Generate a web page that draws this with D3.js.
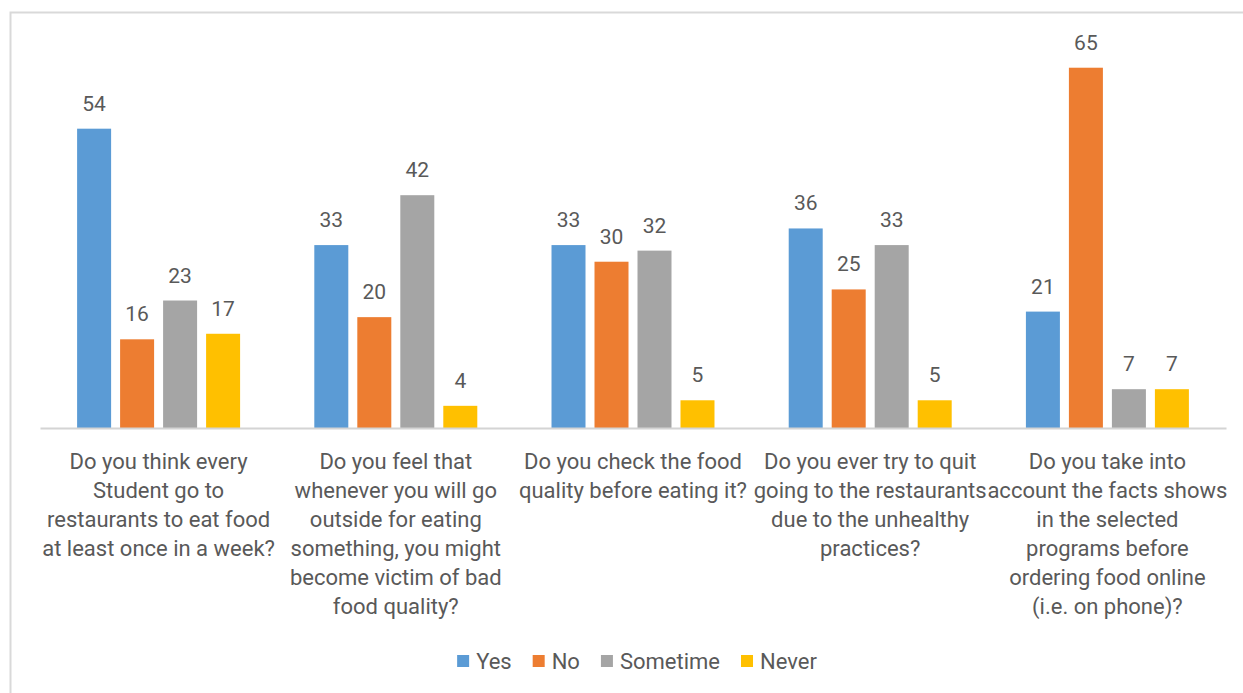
<!DOCTYPE html>
<html>
<head>
<meta charset="utf-8">
<script src="https://cdn.jsdelivr.net/npm/d3@7"></script>
<style>
  body { margin: 0; background: #fff; }
  text { font-family: Roboto, "Open Sans", sans-serif; fill: #595959; }
</style>
</head>
<body>
<div id="chart"></div>
<script>
var svgWidth = 1243;
var svgHeight = 693;

// data
var categories = ["q1", "q2", "q3", "q4", "q5"];
var categoryLines = [
    ["Do you think every", "Student go to", "restaurants to eat food", "at least once in a week?"],
    ["Do you feel that", "whenever you will go", "outside for eating", "something, you might", "become victim of bad", "food quality?"],
    ["Do you check the food", "quality before eating it?"],
    ["Do you ever try to quit", "going to the restaurants", "due to the unhealthy", "practices?"],
    ["Do you take into", "account the facts shows", "in the selected", "programs before", "ordering food online", "(i.e. on phone)?"]
];
var seriesNames = ["Yes", "No", "Sometime", "Never"];
var yesValues = [54, 33, 33, 36, 21];
var noValues = [16, 20, 30, 25, 65];
var sometimeValues = [23, 42, 32, 33, 7];
var neverValues = [17, 4, 5, 5, 7];
var seriesValues = [yesValues, noValues, sometimeValues, neverValues];
var colors = ["#5B9BD5", "#ED7D31", "#A5A5A5", "#FFC000"];

var plot = { left: 40, right: 1226, top: 40, base: 428 };

var svg = d3.select("#chart")
    .append("svg")
    .attr("width", svgWidth)
    .attr("height", svgHeight);

// chart frame (only top and left edges are inside the picture)
svg.append("rect")
    .attr("x", 10.5)
    .attr("y", 12.5)
    .attr("width", svgWidth + 20)
    .attr("height", svgHeight + 20)
    .attr("fill", "none")
    .attr("stroke", "#d9d9d9")
    .attr("stroke-width", 2);

var x0 = d3.scaleBand()
    .domain(categories)
    .range([plot.left, plot.right]);

var x1 = d3.scaleBand()
    .domain(seriesNames)
    .range([0, x0.bandwidth()])
    .paddingInner(9 / 43)
    .paddingOuter(0.863);

var y = d3.scaleLinear()
    .domain([0, 70])
    .range([plot.base, plot.top]);

// bars + value labels
seriesNames.forEach(function(name, si) {
    var g = svg.append("g").attr("class", "series");
    var rows = categories.map(function(c, i) { return { cat: c, value: seriesValues[si][i] }; });

    g.selectAll("rect")
        .data(rows)
        .enter().append("rect")
        .attr("x", d => x0(d.cat) + x1(name))
        .attr("y", d => y(d.value))
        .attr("width", x1.bandwidth())
        .attr("height", d => y(0) - y(d.value))
        .attr("fill", colors[si]);

    g.selectAll("text")
        .data(rows)
        .enter().append("text")
        .attr("x", d => x0(d.cat) + x1(name) + x1.bandwidth() / 2)
        .attr("y", d => y(d.value) - 18)
        .attr("text-anchor", "middle")
        .attr("font-size", "21px")
        .text(d => d.value);
});

// category axis
var xAxis = svg.append("g")
    .attr("transform", `translate(0, ${plot.base})`)
    .call(d3.axisBottom(x0).tickSize(0).tickFormat(""));
xAxis.select(".domain")
    .attr("stroke", "#d4d4d4")
    .attr("stroke-width", 2);

categories.forEach(function(c, i) {
    var t = svg.append("text")
        .attr("text-anchor", "middle")
        .attr("font-size", "22px");
    categoryLines[i].forEach(function(line, li) {
        t.append("tspan")
            .attr("x", x0(c) + x0.bandwidth() / 2)
            .attr("y", 469 + li * 29)
            .text(line);
    });
});

// legend
var legend = svg.append("g");
var cursor = 0;
seriesNames.forEach(function(name, si) {
    var item = legend.append("g").attr("transform", `translate(${cursor}, 0)`);
    item.append("rect")
        .attr("x", 0)
        .attr("y", 655)
        .attr("width", 12)
        .attr("height", 12)
        .attr("fill", colors[si]);
    var txt = item.append("text")
        .attr("x", 19)
        .attr("y", 669)
        .attr("font-size", "22px")
        .text(name);
    cursor += 19 + txt.node().getComputedTextLength() + 21;
});
var legendWidth = cursor - 21;
legend.attr("transform", `translate(${637 - legendWidth / 2}, 0)`);
</script>
</body>
</html>
